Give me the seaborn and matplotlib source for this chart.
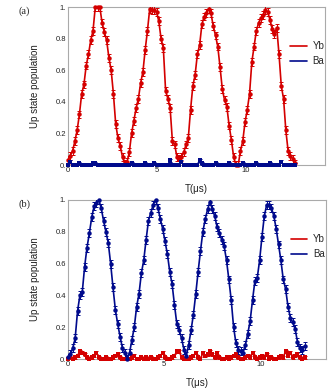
import numpy as np
import pandas as pd
import seaborn as sns
import matplotlib.pyplot as plt
from matplotlib.lines import Line2D

# ---------------- data
# (a) Yb driven, Ba spectator
t_a = np.round(np.arange(101) * 0.128, 3)
yb_a = [0.03, 0.06, 0.09, 0.15, 0.22, 0.32, 0.45, 0.51, 0.63, 0.70,
        0.79, 0.85, 1.00, 1.00, 1.00, 0.90, 0.84, 0.79, 0.68, 0.60,
        0.45, 0.26, 0.17, 0.12, 0.05, 0.01, 0.02, 0.08, 0.20, 0.28,
        0.36, 0.42, 0.52, 0.59, 0.73, 0.85, 0.99, 0.98, 0.98, 0.97,
        0.91, 0.80, 0.74, 0.47, 0.42, 0.36, 0.15, 0.13, 0.05, 0.04,
        0.05, 0.08, 0.13, 0.17, 0.35, 0.50, 0.57, 0.70, 0.76, 0.89,
        0.94, 0.96, 0.99, 0.96, 0.88, 0.82, 0.75, 0.62, 0.48, 0.41,
        0.37, 0.25, 0.16, 0.05, 0.00, 0.00, 0.09, 0.15, 0.27, 0.35,
        0.45, 0.65, 0.75, 0.85, 0.90, 0.93, 0.95, 0.98, 0.97, 0.92,
        0.86, 0.83, 0.87, 0.70, 0.50, 0.42, 0.22, 0.09, 0.06, 0.04,
        0.01]
ba_a = [0.00, 0.02, 0.00, 0.00, 0.00, 0.01, 0.00, 0.00, 0.00, 0.00,
        0.00, 0.01, 0.01, 0.00, 0.00, 0.00, 0.00, 0.00, 0.00, 0.00,
        0.00, 0.00, 0.00, 0.00, 0.00, 0.00, 0.00, 0.00, 0.01, 0.00,
        0.00, 0.00, 0.00, 0.00, 0.01, 0.00, 0.00, 0.00, 0.01, 0.00,
        0.00, 0.00, 0.00, 0.00, 0.00, 0.03, 0.00, 0.00, 0.00, 0.00,
        0.02, 0.00, 0.00, 0.00, 0.00, 0.00, 0.00, 0.00, 0.03, 0.01,
        0.00, 0.00, 0.00, 0.00, 0.00, 0.01, 0.00, 0.00, 0.00, 0.00,
        0.00, 0.01, 0.00, 0.00, 0.00, 0.00, 0.00, 0.01, 0.00, 0.00,
        0.00, 0.00, 0.00, 0.01, 0.00, 0.00, 0.00, 0.00, 0.00, 0.01,
        0.00, 0.00, 0.00, 0.00, 0.02, 0.00, 0.00, 0.00, 0.00, 0.00,
        0.00]

# (b) Ba driven, Yb spectator
t_b = np.round(np.arange(101) * 0.123, 3)
ba_b = [0.01, 0.03, 0.07, 0.13, 0.30, 0.40, 0.42, 0.58, 0.70, 0.79,
        0.89, 0.96, 0.98, 1.00, 0.95, 0.87, 0.80, 0.73, 0.60, 0.45,
        0.31, 0.22, 0.14, 0.07, 0.04, 0.00, 0.04, 0.12, 0.20, 0.33,
        0.41, 0.54, 0.62, 0.75, 0.87, 0.92, 0.97, 1.00, 0.95, 0.88,
        0.82, 0.74, 0.66, 0.55, 0.47, 0.34, 0.22, 0.18, 0.13, 0.06,
        0.02, 0.09, 0.18, 0.28, 0.41, 0.55, 0.68, 0.80, 0.88, 0.94,
        0.99, 0.94, 0.90, 0.83, 0.79, 0.75, 0.71, 0.62, 0.50, 0.37,
        0.20, 0.10, 0.06, 0.05, 0.04, 0.09, 0.16, 0.24, 0.37, 0.49,
        0.51, 0.62, 0.77, 0.90, 0.97, 0.97, 0.95, 0.90, 0.82, 0.72,
        0.62, 0.50, 0.44, 0.33, 0.26, 0.23, 0.19, 0.11, 0.07, 0.06,
        0.08]
yb_b = [0.00, 0.01, 0.00, 0.01, 0.02, 0.05, 0.04, 0.03, 0.01, 0.00,
        0.01, 0.02, 0.04, 0.01, 0.00, 0.00, 0.01, 0.00, 0.00, 0.01,
        0.02, 0.03, 0.01, 0.00, 0.00, 0.00, 0.00, 0.01, 0.02, 0.00,
        0.00, 0.01, 0.00, 0.01, 0.00, 0.01, 0.00, 0.00, 0.01, 0.02,
        0.04, 0.01, 0.00, 0.00, 0.01, 0.02, 0.05, 0.05, 0.01, 0.00,
        0.00, 0.00, 0.01, 0.02, 0.04, 0.01, 0.00, 0.04, 0.02, 0.03,
        0.05, 0.03, 0.01, 0.04, 0.01, 0.00, 0.00, 0.01, 0.00, 0.01,
        0.02, 0.03, 0.01, 0.00, 0.00, 0.01, 0.02, 0.01, 0.04, 0.01,
        0.00, 0.01, 0.02, 0.01, 0.03, 0.00, 0.01, 0.00, 0.00, 0.01,
        0.02, 0.01, 0.05, 0.02, 0.04, 0.01, 0.02, 0.03, 0.01, 0.00,
        0.01]

err_main = 0.025
err_base = 0.01
y_ticks = [0, 0.2, 0.4, 0.6, 0.8, 1.0]
y_ticklabels = ["0.", "0.2", "0.4", "0.6", "0.8", "1."]
x_ticks = [0, 5, 10]

RED = "#d40000"
BLUE = "#000a8c"

sns.set_style("white")
plt.rcParams["font.family"] = ["Liberation Sans", "DejaVu Sans"]

fig = plt.figure(figsize=(3.32, 3.92), dpi=100)
ax_a = fig.add_axes([0.205, 0.579, 0.774, 0.403])
ax_b = fig.add_axes([0.205, 0.084, 0.776, 0.406])


def draw_series(ax, t, y, err, color, marker, ms):
    df = pd.DataFrame({"t": t, "y": y})
    ax.errorbar(t, y, yerr=err, fmt="none", ecolor=color, elinewidth=0.7,
                capsize=1.3, capthick=0.7, zorder=2)
    sns.lineplot(data=df, x="t", y="y", ax=ax, color=color, lw=1.2,
                 marker=marker, markersize=ms, markeredgewidth=0,
                 zorder=3, legend=False, clip_on=False)


def style_axes(ax, xmax, label, loc_y):
    ax.set_xlim(0, xmax)
    ax.set_ylim(0, 1.0)
    ax.set_xticks(x_ticks)
    ax.set_yticks(y_ticks)
    ax.set_yticklabels(y_ticklabels)
    ax.tick_params(direction="in", length=2, width=0.6, colors="#888888",
                   labelcolor="#222222", labelsize=5.5, pad=1.5)
    for s in ax.spines.values():
        s.set_color("#aaaaaa")
        s.set_linewidth(0.8)
        s.set_zorder(1)
    ax.set_xlabel("T(μs)", fontsize=7, labelpad=7, color="#222222")
    ax.set_ylabel("Up state population", fontsize=7, labelpad=11,
                  color="#222222")
    handles = [Line2D([], [], color=RED, lw=1.2),
               Line2D([], [], color=BLUE, lw=1.2)]
    ax.legend(handles, ["Yb", "Ba"], loc="upper left",
              bbox_to_anchor=(0.83, loc_y), frameon=False, fontsize=7,
              handlelength=1.7, handletextpad=0.6, labelspacing=0.55)
    fig.text(0.055, label[1], label[0], fontsize=7.5,
             family=["Liberation Serif", "DejaVu Serif"])


draw_series(ax_a, t_a, yb_a, err_main, RED, "o", 3.2)
draw_series(ax_a, t_a, ba_a, err_base, BLUE, "s", 2.6)
style_axes(ax_a, 14.5, ("(a)", 0.965), 0.84)

draw_series(ax_b, t_b, yb_b, err_base, RED, "s", 2.6)
draw_series(ax_b, t_b, ba_b, err_main, BLUE, "o", 3.2)
style_axes(ax_b, 13.4, ("(b)", 0.472), 0.84)

fig.savefig("out.png", dpi=100)
